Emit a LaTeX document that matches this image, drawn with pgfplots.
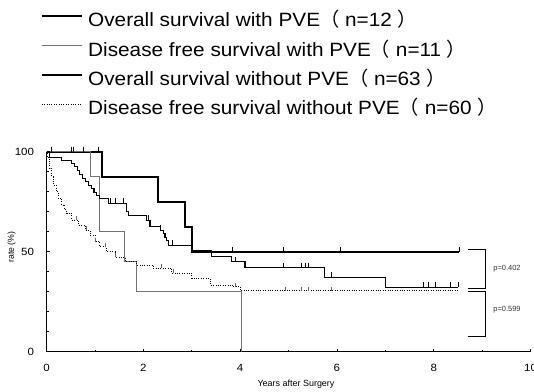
\documentclass[border=0pt]{standalone}
\usepackage{pgfplots}
\pgfplotsset{compat=1.18}
\usepackage{fontspec}
\setmainfont{Liberation Sans}
\newfontfamily\legfont[FakeStretch=1.08]{Liberation Sans}
\newfontfamily\tickfont[FakeStretch=1.1]{Liberation Sans}
\newfontfamily\cjk{Noto Sans CJK JP}
\begin{document}
\begin{tikzpicture}[x=1bp,y=1bp]
\useasboundingbox (0,0) rectangle (534,391);
% legend
\tikzset{legtext/.style={anchor=base west,inner sep=0pt,font=\legfont\fontsize{19.3}{21}\selectfont}}
\draw[line width=2.2bp] (41.7,375) -- (81.7,375);
\node[legtext] at (88,364.3) {Overall survival with PVE{\cjk （} n=12 {\cjk ）}};
\draw[line width=0.9bp,black!55] (41.7,345.5) -- (81.7,345.5);
\node[legtext] at (88,335) {Disease free survival with PVE{\cjk （} n=11 {\cjk ）}};
\draw[line width=1.3bp] (41.7,316) -- (81.7,316);
\node[legtext] at (88,305.5) {Overall survival without PVE{\cjk （} n=63 {\cjk ）}};
\draw[line width=0.8bp,dash pattern=on 0.8bp off 1.6bp] (41.7,287) -- (81.7,287);
\node[legtext] at (88,276.5) {Disease free survival without PVE{\cjk （} n=60 {\cjk ）}};
% labels
\node[font=\fontsize{9}{10}\selectfont] at (296,7) {Years after Surgery};
\node[rotate=90,font=\fontsize{8.7}{10}\selectfont] at (11.7,144) {rate (\%)};
\begin{axis}[
  at={(46.5bp,39.3bp)}, anchor=south west,
  x=48.4bp, y=2bp,
  xmin=0, xmax=10, ymin=0, ymax=100,
  axis lines*=left,
  clip=false,
  axis line style={line width=0.9bp},
  xtick={0,2,4,6,8,10},
  minor xtick={1,3,5,7,9},
  ytick={0,50,100},
  minor ytick={10,20,30,40,60,70,80,90},
  tick align=inside,
  major tick length=3bp,
  minor tick length=2bp,
  tick style={black, line width=0.6bp},
  /pgf/number format/assume math mode=true,
  ticklabel style={font=\tickfont\fontsize{10.5}{12}\selectfont},
  xticklabel style={yshift=-9bp},
  yticklabel style={xshift=-9bp},
]
% Overall survival with PVE
\addplot[const plot, line width=2bp, black] coordinates {
(0,100)(1.14,87.5)(2.3,75)(2.86,62.5)(3.0,50)(8.52,50)};
% Disease free survival with PVE
\addplot[const plot, line width=0.9bp, black!55] coordinates {
(0,100)(0.9,87.5)(1.1,60)(1.62,45)(1.86,30)(4.03,0)};
% Overall survival without PVE
\addplot[const plot, line width=1.2bp, black] coordinates {
(0,100)(0.06,97)(0.31,95.8)(0.52,94.2)(0.58,92.5)(0.64,90.8)(0.69,88.5)
(0.74,86.5)(0.80,85)(0.86,83.3)(0.93,81.7)(0.98,79.5)(1.04,78)(1.10,76.7)
(1.28,74.2)(1.66,70)(1.70,68.3)(2.07,65.8)(2.14,62.5)(2.35,60.8)(2.41,59)
(2.45,57)(2.48,55.5)(2.52,53.3)(3.0,50.8)(3.41,47.8)(3.83,45)(4.1,42)
(5.75,37.2)(7.0,32.2)(8.51,32.2)};
% Disease free survival without PVE
\addplot[const plot, line width=0.8bp, black, dash pattern=on 0.8bp off 1.6bp] coordinates {
(0,100)(0.02,97)(0.05,94)(0.07,91.7)(0.11,87.5)(0.14,83.3)(0.2,80)(0.24,76.7)
(0.31,73.3)(0.38,71)(0.42,69.2)(0.52,65.8)(0.66,63.3)(0.8,60.8)(0.9,58.3)
(1.0,55)(1.1,52.5)(1.24,50)(1.42,47.2)(1.62,45)(1.86,43.3)(2.21,41.7)
(2.59,39.2)(3.0,36.7)(3.38,33.3)(3.86,32.5)(4.0,30.5)(8.51,30.5)};
% censor marks
\addplot[only marks, mark=|, mark size=2.5bp, mark options={line width=0.6bp, black}] coordinates {
(0.1,101.3)(0.52,101.3)(0.55,101.3)(0.76,101.3)(1.08,101.3)
(3.83,51.3)(4.89,51.3)(6.06,51.3)(8.52,51.3)};
\addplot[only marks, mark=|, mark size=2.5bp, mark options={line width=0.6bp, black}] coordinates {
(1.31,75.5)(1.42,75.5)(1.58,75.5)(2.1,67.1)(2.35,62.1)(2.6,54.6)(3.9,46.3)
(4.89,43.3)(5.27,43.3)(5.34,43.3)(5.41,43.3)(5.89,38.5)
(7.78,33.5)(7.89,33.5)(8.03,33.5)(8.35,33.5)(8.51,33.5)};
\addplot[only marks, mark=|, mark size=2bp, mark options={line width=0.5bp, black!60}] coordinates {
(0.62,66.8)(0.83,61.8)(1.0,56)(1.21,53.5)(1.42,48.2)(2.38,42.7)(2.62,40.2)
(3.89,33.5)(4.93,31.5)(5.27,31.5)(5.41,31.5)(5.89,31.5)};
% brackets
\addplot[black, line width=0.7bp] coordinates {(8.70,51.3)(9.07,51.3)(9.07,31.7)(8.70,31.7)};
\addplot[black, line width=0.7bp] coordinates {(8.70,30.2)(9.07,30.2)(9.07,7.5)(8.70,7.5)};
\node[anchor=west, font=\fontsize{7.5}{9}\selectfont, black!80] at (axis cs:9.16,41.7) {p=0.402};
\node[anchor=west, font=\fontsize{7.5}{9}\selectfont, black!80] at (axis cs:9.16,20.8) {p=0.599};
\end{axis}
\end{tikzpicture}
\end{document}
